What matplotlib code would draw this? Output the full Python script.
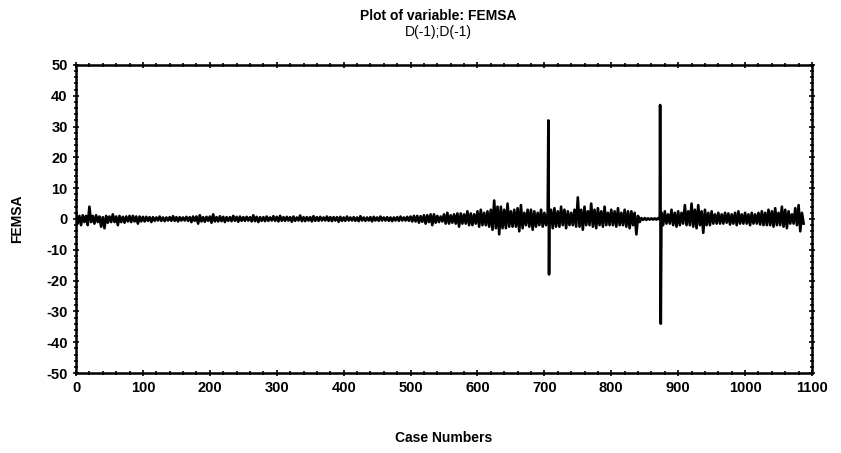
import numpy as np
import matplotlib
matplotlib.use("Agg")
import matplotlib.pyplot as plt
from matplotlib.ticker import MultipleLocator

plt.rcParams['font.family'] = ['Liberation Sans', 'DejaVu Sans']
plt.rcParams['axes.unicode_minus'] = False

# differenced series: for every block of 5 cases the
# highest and the lowest value, one pair of lists per 100 cases
hi_0 = [1.5, 1.0, 1.2, 1.0, 4.0, 1.0, 1.2, 0.8, 0.6, 1.0, 0.8, 1.5, 0.8, 1.0, 0.7, 0.8, 1.0, 1.0, 0.8, 0.8]
lo_0 = [-1.5, -2.0, -1.0, -2.0, -1.0, -1.5, -1.0, -2.5, -3.0, -1.2, -1.0, -1.0, -2.0, -1.0, -1.2, -0.8, -1.0, -0.8, -1.5, -0.8]
hi_100 = [0.7, 0.7, 0.6, 0.6, 0.5, 0.8, 0.5, 0.5, 0.6, 0.9, 0.6, 0.6, 0.5, 0.7, 0.6, 0.8, 0.8, 1.2, 0.6, 0.7]
lo_100 = [-0.8, -0.6, -1.0, -0.6, -0.5, -0.6, -0.7, -0.5, -0.6, -0.6, -0.8, -0.5, -0.5, -0.6, -1.0, -0.6, -1.5, -0.8, -0.9, -0.6]
hi_200 = [0.8, 1.5, 0.6, 0.9, 0.7, 0.6, 0.6, 1.0, 0.7, 0.8, 0.6, 0.7, 0.6, 1.2, 0.7, 0.6, 0.6, 0.8, 0.5, 0.9]
lo_200 = [-1.2, -0.8, -0.8, -0.7, -1.0, -0.6, -0.7, -0.6, -0.9, -0.6, -0.6, -0.5, -0.8, -0.7, -1.0, -0.6, -0.7, -0.6, -0.5, -0.6]
hi_300 = [0.7, 1.0, 0.6, 0.7, 0.6, 0.8, 0.5, 1.1, 0.6, 0.6, 0.6, 0.9, 0.6, 0.7, 0.5, 0.8, 0.6, 0.6, 0.6, 0.7]
lo_300 = [-0.8, -0.6, -0.6, -0.5, -0.9, -0.6, -0.5, -0.7, -0.7, -0.5, -0.8, -0.6, -0.6, -0.5, -0.5, -0.6, -0.7, -0.5, -0.9, -0.6]
hi_400 = [0.5, 0.8, 0.5, 0.6, 0.5, 0.9, 0.5, 0.5, 0.6, 0.7, 0.5, 0.8, 0.5, 0.6, 0.5, 0.5, 0.6, 0.8, 0.5, 0.7]
lo_400 = [-0.6, -0.5, -0.5, -0.6, -0.7, -0.5, -0.6, -0.5, -0.8, -0.5, -0.6, -0.5, -0.5, -0.6, -0.7, -0.5, -0.6, -0.5, -0.5, -0.6]
hi_500 = [0.8, 1.0, 1.0, 0.9, 1.2, 1.2, 1.5, 1.5, 1.0, 0.8, 1.5, 2.0, 1.2, 1.5, 1.8, 1.8, 1.5, 2.5, 1.8, 1.5]
lo_500 = [-0.8, -0.8, -1.2, -0.9, -1.5, -1.0, -2.0, -1.2, -1.0, -0.8, -1.5, -1.5, -1.2, -1.5, -2.5, -1.5, -1.5, -2.0, -2.0, -1.5]
hi_600 = [2.5, 3.0, 2.0, 2.5, 3.0, 6.0, 4.0, 4.0, 3.0, 5.0, 2.5, 3.0, 3.5, 4.5, 2.0, 3.0, 3.0, 2.5, 2.0, 3.0]
lo_600 = [-2.5, -2.0, -2.0, -2.5, -3.5, -3.0, -5.0, -3.0, -3.0, -2.5, -2.5, -2.5, -4.0, -3.0, -2.0, -2.5, -3.5, -2.5, -2.0, -2.5]
hi_700 = [2.0, 2.0, 3.0, 3.5, 2.5, 4.0, 3.0, 2.5, 2.0, 3.0, 7.0, 3.0, 4.0, 2.5, 5.0, 3.0, 3.5, 2.5, 4.0, 2.0]
lo_700 = [-2.0, -2.0, -3.0, -2.5, -2.5, -2.0, -3.0, -2.0, -2.0, -2.5, -2.5, -3.5, -2.0, -2.0, -2.5, -3.0, -2.0, -2.5, -2.0, -2.0]
hi_800 = [3.0, 2.5, 3.5, 2.0, 3.0, 2.5, 2.5, 2.0, 1.0, 0.3, 0.3, 0.2, 0.2, 0.2, 0.3, 2.0, 2.5, 1.5, 3.0, 2.0]
lo_800 = [-2.0, -2.5, -2.0, -2.0, -2.5, -3.0, -2.0, -5.0, -1.0, -0.3, -0.3, -0.2, -0.2, -0.2, -0.2, -2.0, -1.5, -1.5, -2.0, -2.5]
hi_900 = [2.5, 2.0, 4.5, 2.5, 5.0, 3.0, 4.5, 2.5, 3.0, 2.0, 2.5, 1.5, 2.0, 1.5, 2.0, 1.8, 1.5, 2.0, 2.5, 1.5]
lo_900 = [-2.0, -1.5, -2.0, -2.0, -2.5, -3.0, -2.0, -4.5, -2.0, -2.0, -1.5, -1.5, -1.5, -1.5, -1.2, -1.8, -1.5, -2.0, -1.5, -1.5]
hi_1000 = [2.0, 1.5, 2.0, 1.5, 2.0, 2.5, 2.0, 3.0, 2.5, 3.5, 2.0, 4.0, 3.0, 2.5, 1.5, 3.5, 4.5, 2.0]
lo_1000 = [-1.5, -2.0, -1.5, -1.5, -1.8, -2.0, -2.0, -2.0, -2.5, -2.0, -2.0, -2.5, -3.0, -1.5, -1.5, -2.0, -4.0, -1.5]

# the two big outliers
spike_cases = [706, 707, 873, 874]
spike_values = [32.0, -18.0, 37.0, -34.0]

segments = [(0, hi_0, lo_0), (100, hi_100, lo_100), (200, hi_200, lo_200),
            (300, hi_300, lo_300), (400, hi_400, lo_400), (500, hi_500, lo_500),
            (600, hi_600, lo_600), (700, hi_700, lo_700), (800, hi_800, lo_800),
            (900, hi_900, lo_900), (1000, hi_1000, lo_1000)]

xs, ys = [], []
for start, hi, lo in segments:
    for i, (h, l) in enumerate(zip(hi, lo)):
        c = start + 5 * i
        xs += [c, c + 2.5]
        ys += [h, l]
xs += spike_cases
ys += spike_values
cases = np.array(xs, dtype=float)
values = np.array(ys)
order = np.argsort(cases, kind='stable')
cases, values = cases[order], values[order]

fig = plt.figure(figsize=(8.41, 4.53), dpi=100)
ax = fig.add_axes([0.0904, 0.1766, 0.8751, 0.68])

ax.plot(cases, values, color='black', lw=1.9)

ax.set_xlim(0, 1100)
ax.set_ylim(-50, 50)
ax.xaxis.set_major_locator(MultipleLocator(100))
ax.xaxis.set_minor_locator(MultipleLocator(20))
ax.yaxis.set_major_locator(MultipleLocator(10))
ax.yaxis.set_minor_locator(MultipleLocator(2))
ax.tick_params(which='both', direction='inout', top=True, right=True, width=1.2)
ax.tick_params(which='major', length=5, labelsize=10.5)
ax.tick_params(which='minor', length=3)
for lab in ax.get_xticklabels() + ax.get_yticklabels():
    lab.set_fontweight('bold')
for sp in ax.spines.values():
    sp.set_linewidth(1.8)

ax.set_xlabel('Case Numbers', fontweight='bold', fontsize=10, labelpad=26)
ax.set_ylabel('FEMSA', fontweight='bold', fontsize=10, labelpad=16)

fig.text(0.521, 0.965, 'Plot of variable: FEMSA', ha='center', va='center',
         fontweight='bold', fontsize=10)
fig.text(0.521, 0.930, 'D(-1);D(-1)', ha='center', va='center', fontsize=10)

fig.savefig('out.png', dpi=100)
